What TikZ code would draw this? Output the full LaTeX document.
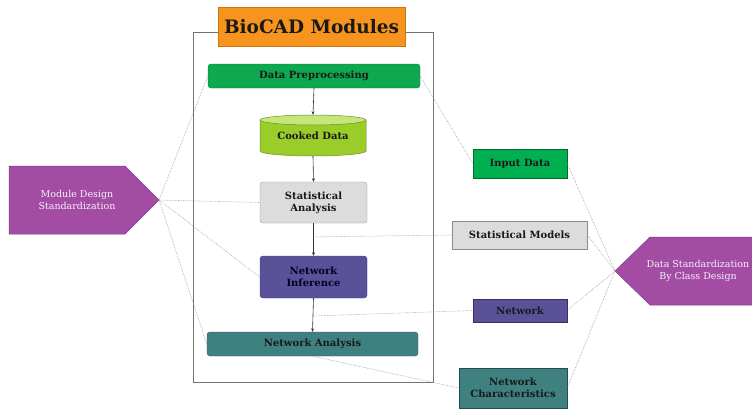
\documentclass[tikz,border=0pt]{standalone}
\usepackage{fontspec}
\setmainfont{DejaVu Serif}
\usetikzlibrary{arrows.meta,calc}
\definecolor{titleor}{HTML}{F7941D}
\definecolor{dpgreen}{HTML}{0DA84F}
\definecolor{cookg}{HTML}{9ACD2A}
\definecolor{cooktop}{HTML}{C4E67A}
\definecolor{sagray}{HTML}{DCDCDC}
\definecolor{niblue}{HTML}{5A5299}
\definecolor{nateal}{HTML}{3F8181}
\definecolor{purp}{HTML}{A24CA4}
\definecolor{ingreen}{HTML}{00B050}
\begin{document}
\begin{tikzpicture}[x=1pt,y=-1pt,
  every node/.style={inner sep=0pt, text=black!90},
  modbox/.style={rounded corners=3pt, draw=#1!75!black, fill=#1, align=center,
    font=\fontsize{10}{12}\selectfont\bfseries},
  databox/.style={draw=#1!60!black, fill=#1, align=center,
    font=\fontsize{10}{12}\selectfont\bfseries},
  pent/.style={fill=purp, draw=purp!80!black, line width=0.5pt},
  penttext/.style={text=white!92!purp, align=center, font=\fontsize{9.5}{11.5}\selectfont},
  flow/.style={draw=black!80, line width=0.6pt, -{Stealth[length=3.5pt,width=3pt]}},
  link/.style={draw=black!40, line width=0.6pt, densely dotted}
]
\useasboundingbox (0,0) rectangle (752,410);
% frame
\draw[black!55, line width=0.8pt] (193,32) rectangle (433,382);
\node[fill=titleor, draw=titleor!80!black, minimum width=187pt, minimum height=39pt,
  font=\fontsize{18.5}{22}\selectfont\bfseries] (title) at (311.5,26.5) {BioCAD Modules};
% modules
\node[modbox=dpgreen, minimum width=212pt, minimum height=24pt] (dp) at (314,76) {Data Preprocessing};
% cylinder
\fill[cookg] (260,120) -- (260,151) arc[start angle=180,end angle=0,x radius=53,y radius=5]
  -- (366,120) -- cycle;
\draw[cookg!70!black, line width=0.5pt] (260,120) -- (260,151) arc[start angle=180,end angle=0,x radius=53,y radius=5] -- (366,120);
\draw[cookg!70!black, fill=cooktop, line width=0.5pt] (313,120) ellipse[x radius=53, y radius=5];
\node[minimum width=106pt, minimum height=41pt, font=\fontsize{10}{12}\selectfont\bfseries] (cook) at (313,135.5) {\raisebox{-2pt}{Cooked Data}};
\node[modbox=sagray, draw=black!40, minimum width=107pt, minimum height=41pt] (sa) at (313.5,202.5) {Statistical\\Analysis};
\node[modbox=niblue, minimum width=107pt, minimum height=42pt, text=black!85!blue] (ni) at (313.5,277) {Network\\Inference};
\node[modbox=nateal, minimum width=211pt, minimum height=24pt] (na) at (312.5,344) {Network Analysis};
% flows
\draw[flow] (dp.south) -- (cook.north);
\draw[flow] (cook.south) -- (sa.north);
\draw[flow] (sa.south) -- (ni.north);
\draw[flow] (ni.south) -- (na.north);
\coordinate (p1) at ($(sa.south)!0.42!(ni.north)$);
\coordinate (p2) at ($(ni.south)!0.53!(na.north)$);
% pentagons
\draw[pent] (9,166) -- (125,166) -- (159,200) -- (125,234) -- (9,234) -- cycle;
\coordinate (mdstip) at (159,200);
\node[penttext] (mds) at (77,200) {Module Design\\Standardization};
\draw[pent] (760,237) -- (650,237) -- (615,271) -- (650,305) -- (760,305) -- cycle;
\coordinate (dsctip) at (615,271);
\node[penttext] (dsc) at (698,271) {Data Standardization\\By Class Design};
% data boxes
\node[databox=ingreen, minimum width=94pt, minimum height=29pt] (in) at (520,163.5) {Input Data};
\node[databox=sagray, draw=black!45, minimum width=135pt, minimum height=28pt] (sm) at (519.5,235) {Statistical Models};
\node[databox=niblue, minimum width=94pt, minimum height=23pt] (net) at (520,310.5) {Network};
\node[databox=nateal, minimum width=108pt, minimum height=40pt] (nc) at (513,388) {Network\\Characteristics};
% links
\draw[link] (mdstip) -- (dp.west);
\draw[link] (mdstip) -- (sa.west);
\draw[link] (mdstip) -- (ni.west);
\draw[link] (mdstip) -- (na.west);
\draw[link] (dp.east) -- (in.west);
\draw[link] (p1) -- (sm.west);
\draw[link] (p2) -- (net.west);
\draw[link] (na.south) -- (nc.west);
\draw[link] (dsctip) -- (in.east);
\draw[link] (dsctip) -- (sm.east);
\draw[link] (dsctip) -- (net.east);
\draw[link] (dsctip) -- (nc.east);
\end{tikzpicture}
\end{document}
